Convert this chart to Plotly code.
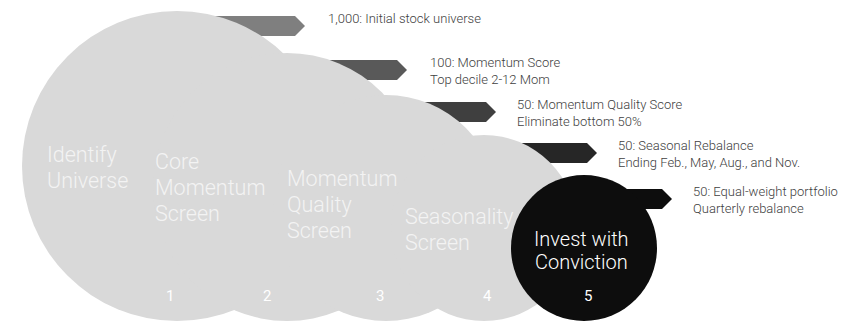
import plotly.graph_objects as go

# ---- funnel content -------------------------------------------------------
step_numbers = ["1", "2", "3", "4", "5"]
step_titles = [
    ["Identify", "Universe"],
    ["Core", "Momentum", "Screen"],
    ["Momentum", "Quality", "Screen"],
    ["Seasonality", "Screen"],
    ["Invest with", "Conviction"],
]
stock_counts = [1000, 100, 50, 50, 50]
step_notes = [
    "Initial stock universe",
    "Momentum Score<br>Top decile 2-12 Mom",
    "Momentum Quality Score<br>Eliminate bottom 50%",
    "Seasonal Rebalance<br>Ending Feb., May, Aug., and Nov.",
    "Equal-weight portfolio<br>Quarterly rebalance",
]

# ---- diagram geometry (page pixels, y grows downward) ----------------------
W, H = 854, 322
circle_cx = [177, 287, 386, 484, 584]
circle_r = [155, 134, 113, 93, 73]
circle_bottom = 321
circle_fill = ["#d9d9d9", "#d9d9d9", "#d9d9d9", "#d9d9d9", "#0d0d0d"]

arrow_top = [16, 60, 102, 143, 189]
arrow_h = 20
arrow_tip = [305, 407, 496, 597, 672]
arrow_depth = 10
arrow_fill = ["#7f7f7f", "#595959", "#3f3f3f", "#262626", "#0d0d0d"]

title_x = [45, 153, 285, 403, 581]
title_first_y = [154, 161, 178, 216, 239]
title_step = [26, 26, 26, 26, 23]
title_size = [21.5, 21.5, 21.5, 21.5, 20]
number_x = [170, 267, 380, 487, 588]
number_y = 296
note_x = [326, 428, 515, 616, 691]

FONT = "Roboto"

fig = go.Figure()
shapes = []
annotations = []

# chevron arrows sit behind the circles
for i in range(len(step_numbers)):
    y0 = arrow_top[i]
    y1 = y0 + arrow_h
    ym = (y0 + y1) / 2
    x0 = circle_cx[i]
    xb = arrow_tip[i] - arrow_depth
    path = (f"M {x0},{y0} L {xb},{y0} L {arrow_tip[i]},{ym} "
            f"L {xb},{y1} L {x0},{y1} Z")
    shapes.append(dict(type="path", path=path, xref="x", yref="y",
                       fillcolor=arrow_fill[i], line=dict(width=0)))

# overlapping circles, bottom-aligned
for i in range(len(step_numbers)):
    cy = circle_bottom - circle_r[i]
    shapes.append(dict(type="circle", xref="x", yref="y",
                       x0=circle_cx[i] - circle_r[i], x1=circle_cx[i] + circle_r[i],
                       y0=cy - circle_r[i], y1=cy + circle_r[i],
                       fillcolor=circle_fill[i], line=dict(width=0)))

# step titles inside the circles, one annotation per line
for i, lines in enumerate(step_titles):
    last = i == len(step_titles) - 1
    for j, line in enumerate(lines):
        annotations.append(dict(
            x=title_x[i], y=title_first_y[i] + j * title_step[i],
            xref="x", yref="y", text=line, showarrow=False,
            xanchor="center" if last else "left", yanchor="middle",
            font=dict(family=FONT, size=title_size[i],
                      color="#ffffff" if last else "#f3f3f3", weight=300),
        ))

# step numbers
for i, num in enumerate(step_numbers):
    annotations.append(dict(
        x=number_x[i], y=number_y, xref="x", yref="y",
        text=num, showarrow=False, xanchor="center", yanchor="middle",
        font=dict(family=FONT, size=15, color="#ffffff", weight=400),
    ))

# notes next to each arrow tip
for i, note in enumerate(step_notes):
    text = f"{stock_counts[i]:,}: {note}"
    annotations.append(dict(
        x=note_x[i], y=arrow_top[i] - 7.5,
        xref="x", yref="y",
        text=text, showarrow=False, xanchor="left", yanchor="top", align="left",
        font=dict(family=FONT, size=13, color="#404040", weight=300),
    ))

fig.update_layout(
    width=W, height=H,
    margin=dict(l=0, r=0, t=0, b=0),
    paper_bgcolor="#ffffff", plot_bgcolor="#ffffff",
    xaxis=dict(range=[0, W], visible=False, fixedrange=True),
    yaxis=dict(range=[H, 0], visible=False, fixedrange=True),
    shapes=shapes, annotations=annotations,
    showlegend=False,
)

fig.write_html("out.html", config={"displayModeBar": False})
